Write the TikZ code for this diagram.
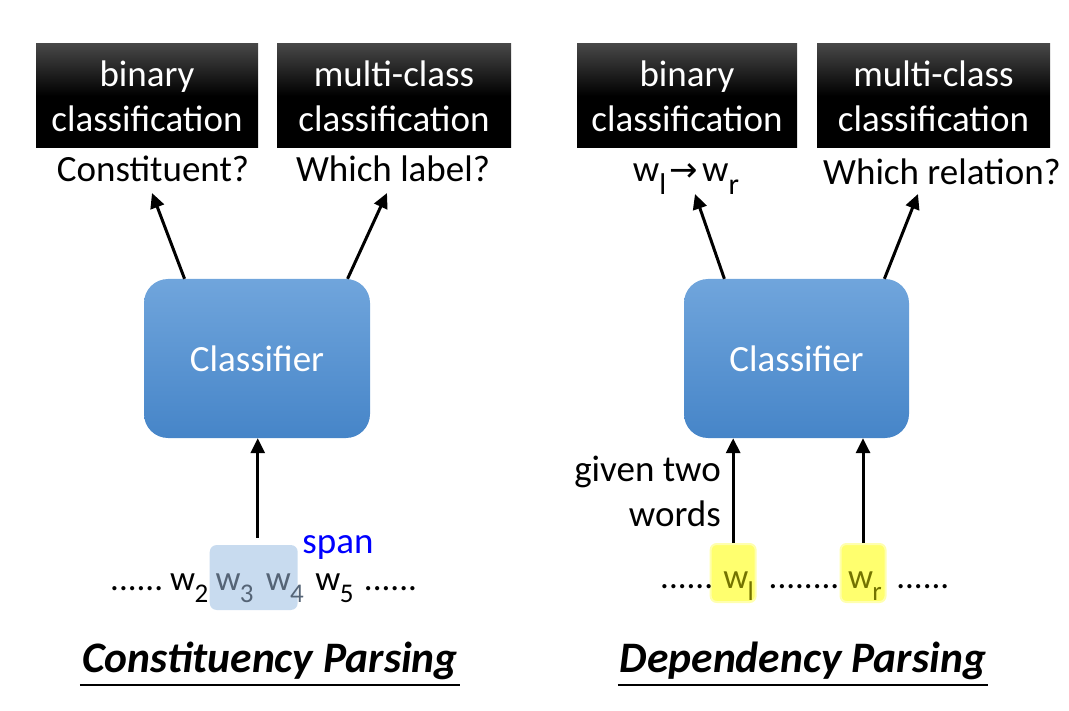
\documentclass[tikz,border=0pt]{standalone}
\usepackage{fontspec}
\setmainfont{Carlito}
\newfontfamily\arrowfont{DejaVu Sans}
\usetikzlibrary{calc,backgrounds,arrows.meta}
\definecolor{clsTop}{RGB}{112,165,220}
\definecolor{clsBot}{RGB}{70,133,200}
\definecolor{spanHl}{RGB}{200,219,239}
\definecolor{yelHl}{RGB}{255,255,110}
\definecolor{wGrey}{RGB}{85,100,118}
\definecolor{wOlive}{RGB}{115,115,0}
\definecolor{spanBlue}{RGB}{0,0,255}
\newcommand{\mysub}[1]{\raisebox{-0.35em}{\fontsize{30}{30}\selectfont #1}}
\newcommand{\wsub}[1]{\kern-0.02em\raisebox{-0.36em}{\fontsize{27}{27}\selectfont #1}}
\newcommand{\bigfs}{\fontsize{37}{45}\selectfont}
\newcommand{\wordfs}{\fontsize{35}{40}\selectfont}
\newcommand{\wsp}{\kern0.2em}
\tikzset{
  blackbox/.style={rectangle, shading=axis, top color=black!72, bottom color=black, middle color=black,
    text=white, align=center, inner sep=0, minimum height=104, font=\bigfs},
  clsbox/.style={rectangle, rounded corners=24, shading=axis, top color=clsTop, bottom color=clsBot,
    text=white, minimum width=226, minimum height=159, font=\bigfs},
  qlabel/.style={anchor=base, inner sep=0, font=\bigfs},
  wordtxt/.style={anchor=base west, inner sep=0, font=\wordfs},
  arr/.style={line width=3, -{Triangle[length=15,width=14]}},
  spanbox/.style={rectangle, rounded corners=7, fill=spanHl, minimum width=88, minimum height=65, inner sep=0},
  yelbox/.style={rectangle, rounded corners=6, fill=yelHl, draw=yelHl!55, line width=2, minimum width=45, minimum height=58, inner sep=0},
  titletxt/.style={anchor=base, inner xsep=2, inner ysep=0, font=\fontsize{43.5}{50}\selectfont\bfseries\itshape},
}
\begin{document}
\begin{tikzpicture}[x=1pt,y=-1pt]
\useasboundingbox (0,0) rectangle (1069,711);

% black boxes
\node[blackbox, minimum width=222] (b1) at (147,96) {binary\\classification};
\node[blackbox, minimum width=234] (b2) at (394,96) {multi-class\\classification};
\node[blackbox, minimum width=220] (b3) at (687,96) {binary\\classification};
\node[blackbox, minimum width=233] (b4) at (933.5,96) {multi-class\\classification};

% question labels
\node[qlabel] (q1) at (153,182) {Constituent?};
\node[qlabel] (q2) at (393,182) {Which label?};
\node[qlabel] (q3) at (686,182) {w\mysub{l}\kern0.08em{\arrowfont\fontsize{34}{36}\selectfont →}\kern0.12em w\mysub{r}};
\node[qlabel] (q4) at (942,185) {Which relation?};

% classifiers
\node[clsbox] (c1) at (257,358.5) {Classifier};
\node[clsbox, minimum width=225] (c2) at (796.5,358.5) {Classifier};

% arrows up to labels
\draw[arr] ($(c1.north west)!0.18!(c1.north east)$) -- ($(q1.base)+(-1,11)$);
\draw[arr] ($(c1.north west)!0.90!(c1.north east)$) -- ($(q2.base)+(-6,11)$);
\draw[arr] ($(c2.north west)!0.18!(c2.north east)$) -- ($(q3.base)+(9,12)$);
\draw[arr] ($(c2.north west)!0.89!(c2.north east)$) -- ($(q4.base)+(-24,9)$);

% constituency words
\node[wordtxt] (t1) at (110,590) {......\wsp w\wsub{2}\wsp};
\node[wordtxt, text=wGrey] (t2) at (t1.base east) {w\wsub{3}\kern0.35em w\wsub{4}};
\node[wordtxt] (t3) at (t2.base east) {\kern0.32em w\wsub{5}\kern0.3em ......};
\begin{scope}[on background layer]
  \node[spanbox] (span) at ($(t2.base)+(-6,-12.5)$) {};
\end{scope}
\node[anchor=base, inner sep=0, text=spanBlue, font=\fontsize{37}{40}\selectfont] (spanlbl) at (338,553) {span};
\draw[arr] ($(span.north)+(4,-7)$) coordinate (a1) -- (a1 |- c1.south);

% dependency words
\node[wordtxt] (r1) at (660,588) {......\kern0.28em};
\node[wordtxt, text=wOlive] (wl) at (r1.base east) {w\wsub{l}};
\node[wordtxt] (r2) at (wl.base east) {\kern0.41em ........\kern0.24em};
\node[wordtxt, text=wOlive] (wr) at (r2.base east) {w\wsub{r}};
\node[wordtxt] (r3) at (wr.base east) {\kern0.4em ......};
\begin{scope}[on background layer]
  \node[yelbox] (wlbox) at ($(wl.base)+(-5.5,-15)$) {};
  \node[yelbox] (wrbox) at ($(wr.base)+(-2,-15)$) {};
\end{scope}
\draw[arr] (wlbox.north) -- (wlbox.north |- c2.south);
\draw[arr] (wrbox.north) -- (wrbox.north |- c2.south);
\node[anchor=north east, inner sep=0, align=right, font=\bigfs] (given) at (721,456) {given two\\words};

% titles
\node[titletxt] (tl1) at (270,672) {Constituency Parsing};
\node[titletxt] (tl2) at (803,672) {Dependency Parsing};
\draw[line width=2] ($(tl1.base west)+(0,13)$) -- ($(tl1.base east)+(0,13)$);
\draw[line width=2] ($(tl2.base west)+(0,13)$) -- ($(tl2.base east)+(0,13)$);
\end{tikzpicture}
\end{document}
